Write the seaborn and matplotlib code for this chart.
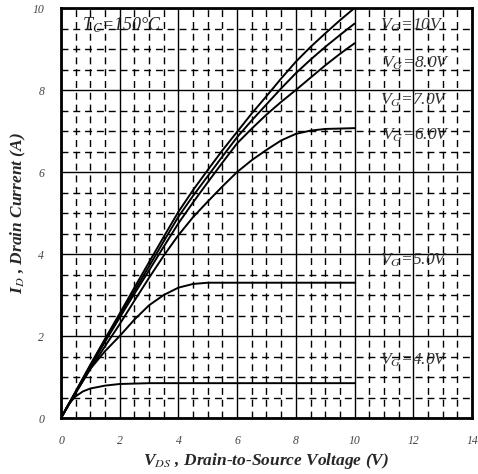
import numpy as np
import pandas as pd
import matplotlib
matplotlib.use("Agg")
import matplotlib.pyplot as plt
import seaborn as sns
from matplotlib.ticker import MultipleLocator

# ---- data ----
vds_main = [0, 0.5, 1, 1.5, 2, 2.5, 3, 3.5, 4, 4.5, 5, 5.5, 6, 6.5, 7, 7.5, 8, 8.5, 9, 9.5, 10]
id_10v = [0, 0.65, 1.30, 1.93, 2.55, 3.18, 3.80, 4.42, 5.03, 5.56, 6.05, 6.53, 6.98, 7.43, 7.85, 8.28, 8.69, 9.05, 9.38, 9.70, 10.0]
id_8v = [0, 0.64, 1.28, 1.90, 2.50, 3.10, 3.70, 4.31, 4.91, 5.42, 5.90, 6.38, 6.85, 7.26, 7.65, 8.04, 8.41, 8.74, 9.05, 9.34, 9.62]
id_7v = [0, 0.63, 1.25, 1.86, 2.45, 3.03, 3.60, 4.18, 4.75, 5.26, 5.75, 6.23, 6.70, 7.06, 7.40, 7.71, 8.00, 8.30, 8.60, 8.88, 9.14]
vds_6v = [0, 0.5, 1, 1.5, 2, 2.5, 3, 3.5, 4, 4.5, 5, 5.5, 6, 6.5, 7, 7.5, 8, 8.5, 9, 9.5, 10]
id_6v = [0, 0.61, 1.20, 1.75, 2.29, 2.86, 3.42, 3.96, 4.46, 4.90, 5.28, 5.65, 6.00, 6.29, 6.54, 6.77, 6.93, 7.01, 7.05, 7.06, 7.07]
vds_5v = [0, 0.5, 1, 1.5, 2, 2.5, 3, 3.5, 4, 4.5, 5, 6, 8, 10]
id_5v = [0, 0.62, 1.20, 1.63, 2.00, 2.40, 2.75, 3.00, 3.18, 3.27, 3.30, 3.30, 3.30, 3.30]
vds_4v = [0, 0.25, 0.5, 0.75, 1, 1.5, 2, 3, 4, 6, 8, 10]
id_4v = [0, 0.33, 0.53, 0.65, 0.72, 0.79, 0.83, 0.85, 0.85, 0.85, 0.85, 0.85]

curve_labels = ["V$_G$=10V", "V$_G$=8.0V", "V$_G$=7.0V", "V$_G$=6.0V", "V$_G$=5.0V", "V$_G$=4.0V"]
label_x = [10.85, 10.95, 10.85, 10.95, 10.85, 10.85]
label_y = [9.58, 8.66, 7.76, 6.90, 3.85, 1.41]
x_ticks = [0, 2, 4, 6, 8, 10, 12, 14]
y_ticks = [0, 2, 4, 6, 8, 10]

frames = []
for name, xs, ys in [("10", vds_main, id_10v), ("8", vds_main, id_8v), ("7", vds_main, id_7v),
                     ("6", vds_6v, id_6v), ("5", vds_5v, id_5v), ("4", vds_4v, id_4v)]:
    frames.append(pd.DataFrame({"VDS": xs, "ID": ys, "VG": name}))
df = pd.concat(frames, ignore_index=True)

sns.set_style("white")
plt.rcParams["font.family"] = ["Liberation Serif", "DejaVu Serif"]
plt.rcParams["mathtext.fontset"] = "stix"

fig = plt.figure(figsize=(4.78, 4.74), dpi=100)
ax = fig.add_axes([0.1276, 0.1181, 0.8598, 0.865])

# grid
ax.set_xlim(0, 14)
ax.set_ylim(0, 10)
ax.xaxis.set_major_locator(MultipleLocator(2))
ax.yaxis.set_major_locator(MultipleLocator(2))
ax.xaxis.set_minor_locator(MultipleLocator(0.5))
ax.yaxis.set_minor_locator(MultipleLocator(0.5))
ax.grid(which="major", color="black", linewidth=1.0, linestyle="-")
ax.grid(which="minor", color="black", linewidth=1.0, linestyle=(0, (5, 3.5)))
ax.set_axisbelow(True)

palette = {k: "black" for k in df["VG"].unique()}
sns.lineplot(data=df, x="VDS", y="ID", hue="VG", palette=palette, legend=False,
             linewidth=1.4, ax=ax, sort=False, estimator=None)

ax.set_xticks(x_ticks)
ax.set_yticks(y_ticks)
ax.set_xticklabels([str(t) for t in x_ticks], fontstyle="italic", color="#444444", fontsize=8.5)
ax.set_yticklabels([str(t) for t in y_ticks], fontstyle="italic", color="#444444", fontsize=8.5)
ax.tick_params(which="both", direction="in", length=0, pad=12)

for s in ax.spines.values():
    s.set_visible(True)
    s.set_linewidth(2.0)
    s.set_color("black")

for lab, lx, ly in zip(curve_labels, label_x, label_y):
    ax.text(lx, ly, lab, fontsize=12.5, fontstyle="italic", color="#333333",
            va="center", ha="left")
ax.text(0.7, 9.58, "T$_C$=150°C", fontsize=13, fontstyle="italic", color="#222222",
        va="center", ha="left")

ax.set_xlabel("V$_{DS}$ , Drain-to-Source Voltage (V)", fontsize=12.5, fontweight="bold",
              fontstyle="italic", labelpad=3)
ax.set_ylabel("I$_D$ , Drain Current (A)", fontsize=12.5, fontweight="bold",
              fontstyle="italic", labelpad=3)

fig.savefig("out.png", dpi=100)
